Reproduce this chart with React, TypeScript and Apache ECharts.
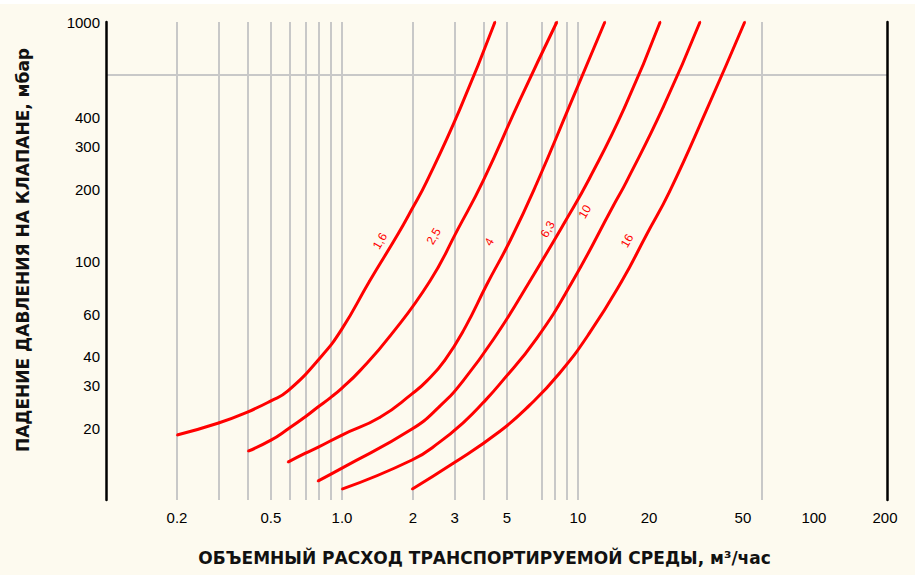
import React, { useEffect, useRef } from "react";
import * as echarts from "echarts";

// Axis values
const xGridValues = [0.2, 0.3, 0.4, 0.5, 0.6, 0.7, 0.8, 0.9, 1, 2, 3, 4, 5, 7, 8, 9, 10, 60];
const xTickLabels = [0.2, 0.5, 1, 2, 3, 5, 10, 20, 50, 100, 200];
const yGridValues = [600];
const yTickLabels = [20, 30, 40, 60, 100, 200, 300, 400, 1000];

const xName = "ОБЪЕМНЫЙ РАСХОД ТРАНСПОРТИРУЕМОЙ СРЕДЫ, м³/час";
const yName = "ПАДЕНИЕ ДАВЛЕНИЯ НА КЛАПАНЕ, мбар";

// Curves: [flow m3/h, pressure drop mbar]
const curveNames = ["1,6", "2,5", "4", "6,3", "10", "16"];
const curve1 = [[0.2, 18.7], [0.3, 21.0], [0.4, 23.4], [0.5, 26.0], [0.59, 28.6], [0.807, 39.3], [1.0, 52], [1.31, 82.5], [1.73, 130], [1.98, 165], [2.29, 216], [3.16, 432], [4.45, 1000]];
const curve2 = [[0.4, 16.0], [0.5, 17.8], [0.59, 19.8], [0.704, 22.4], [0.791, 24.5], [0.889, 26.7], [1.0, 29.4], [1.19, 34.7], [1.6, 48.6], [2.36, 82.5], [3.1, 136], [3.96, 216], [5.67, 471], [8.14, 1000]];
const curve3 = [[0.59, 14.4], [0.7, 15.7], [0.79, 16.6], [1.0, 18.7], [1.45, 22.2], [1.98, 27.8], [2.29, 31.5], [2.73, 38.5], [3.32, 52.5], [4.12, 80.1], [5.2, 123.6], [6.7, 212], [9.25, 450], [13.0, 1000]];
const curve4 = [[0.79, 12.0], [1.0, 13.6], [1.98, 19.8], [2.6, 24.7], [3.26, 31.5], [4.54, 49.5], [6.26, 82.5], [8.8, 145.6], [11.2, 222], [15.8, 441], [22.3, 1000]];
const curve5 = [[1.0, 11.1], [1.98, 14.7], [2.6, 17.5], [3.32, 21.4], [3.96, 25.5], [4.67, 30.6], [6.7, 47.6], [9.5, 82.5], [14.1, 170], [16.1, 216], [23.0, 441], [32.9, 1000]];
const curve6 = [[1.98, 11.1], [2.95, 14.2], [4.67, 19.4], [6.26, 25.0], [8.37, 34.0], [11.2, 50.0], [15.35, 82.5], [19.5, 128.5], [24.5, 196], [35.2, 432], [50.9, 1000]];
const curves = [curve1, curve2, curve3, curve4, curve5, curve6];
// index of the point that carries each curve's label
const labelIndex = [8, 10, 10, 7, 8, 7];

const FONT = "'Liberation Sans', Arial, sans-serif";
const NAME_FONT = "'DejaVu Sans', 'Liberation Sans', sans-serif";

export default function App() {
  const ref = useRef<HTMLDivElement>(null);
  useEffect(() => {
    const chart = echarts.init(ref.current!, null, { renderer: "svg" });
    const labelDistance = [13, 19, 19, 12, 24, 15];
    const series = curves.map((c, i) => ({
      type: "line",
      name: curveNames[i],
      xAxisIndex: 0,
      yAxisIndex: 0,
      smooth: 0.5,
      showSymbol: true,
      showAllSymbol: true,
      symbol: "circle",
      symbolSize: 2,
      clip: true,
      lineStyle: { color: "#FF0000", width: 3 },
      itemStyle: { color: "#FF0000" },
      emphasis: { disabled: true },
      data: c.map((p, j) =>
        j === labelIndex[i]
          ? {
              value: p,
              label: {
                show: true,
                formatter: curveNames[i],
                position: "left",
                distance: labelDistance[i],
                rotate: 60,
                color: "#FF0000",
                fontSize: 12,
                fontFamily: FONT,
              },
            }
          : p
      ),
    }));
    chart.setOption({
      animation: false,
      backgroundColor: "#FDFAEF",
      textStyle: { fontFamily: FONT },
      grid: { left: 106, right: 28, top: 22, bottom: 75, containLabel: false, outerBoundsMode: "none" },
      xAxis: {
        type: "log",
        logBase: 10,
        min: 0.1,
        max: 204,
        axisLine: { show: false, onZero: false },
        axisTick: { show: false, customValues: xGridValues },
        splitLine: { show: true, lineStyle: { color: "#C8C8C8", width: 2 } },
        minorSplitLine: { show: false },
        axisLabel: {
          customValues: xTickLabels,
          formatter: (v: number) => (v === 1 ? "1.0" : String(v)),
          color: "#000",
          fontSize: 15,
          margin: 10,
          fontFamily: FONT,
        },
        name: xName,
        nameLocation: "middle",
        nameGap: 49,
        nameTextStyle: { color: "#111", fontSize: 17, fontFamily: NAME_FONT, fontWeight: "bold", padding: [0, 24, 0, 0] },
      },
      yAxis: [
        {
          type: "log",
          logBase: 10,
          min: 10,
          max: 1000,
          position: "left",
          axisLine: { show: true, onZero: false, lineStyle: { color: "#000", width: 2.5 } },
          axisTick: { show: false, customValues: yGridValues },
          splitLine: { show: true, lineStyle: { color: "#C8C8C8", width: 2 } },
          minorSplitLine: { show: false },
          axisLabel: {
            customValues: yTickLabels,
            formatter: (v: number) => String(v),
            color: "#000",
            fontSize: 15,
            margin: 6,
            fontFamily: FONT,
          },
          name: yName,
          nameLocation: "middle",
          nameGap: 75,
          nameRotate: 90,
          nameTextStyle: { color: "#111", fontSize: 17, fontFamily: NAME_FONT, fontWeight: "bold", padding: [0, 0, 0, 22] },
        },
        {
          type: "log",
          logBase: 10,
          min: 10,
          max: 1000,
          position: "right",
          axisLine: { show: true, onZero: false, lineStyle: { color: "#000", width: 2.5 } },
          axisTick: { show: false },
          axisLabel: { show: false },
          splitLine: { show: false },
        },
      ],
      graphic: [
        { type: "rect", left: 0, top: 0, shape: { width: 915, height: 4 }, style: { fill: "#FFFFFF" }, silent: true },
      ],
      series,
    });
    return () => chart.dispose();
  }, []);
  return (
    <div
      ref={ref}
      style={{ position: "fixed", left: 0, top: 0, width: 915, height: 575 }}
    />
  );
}
